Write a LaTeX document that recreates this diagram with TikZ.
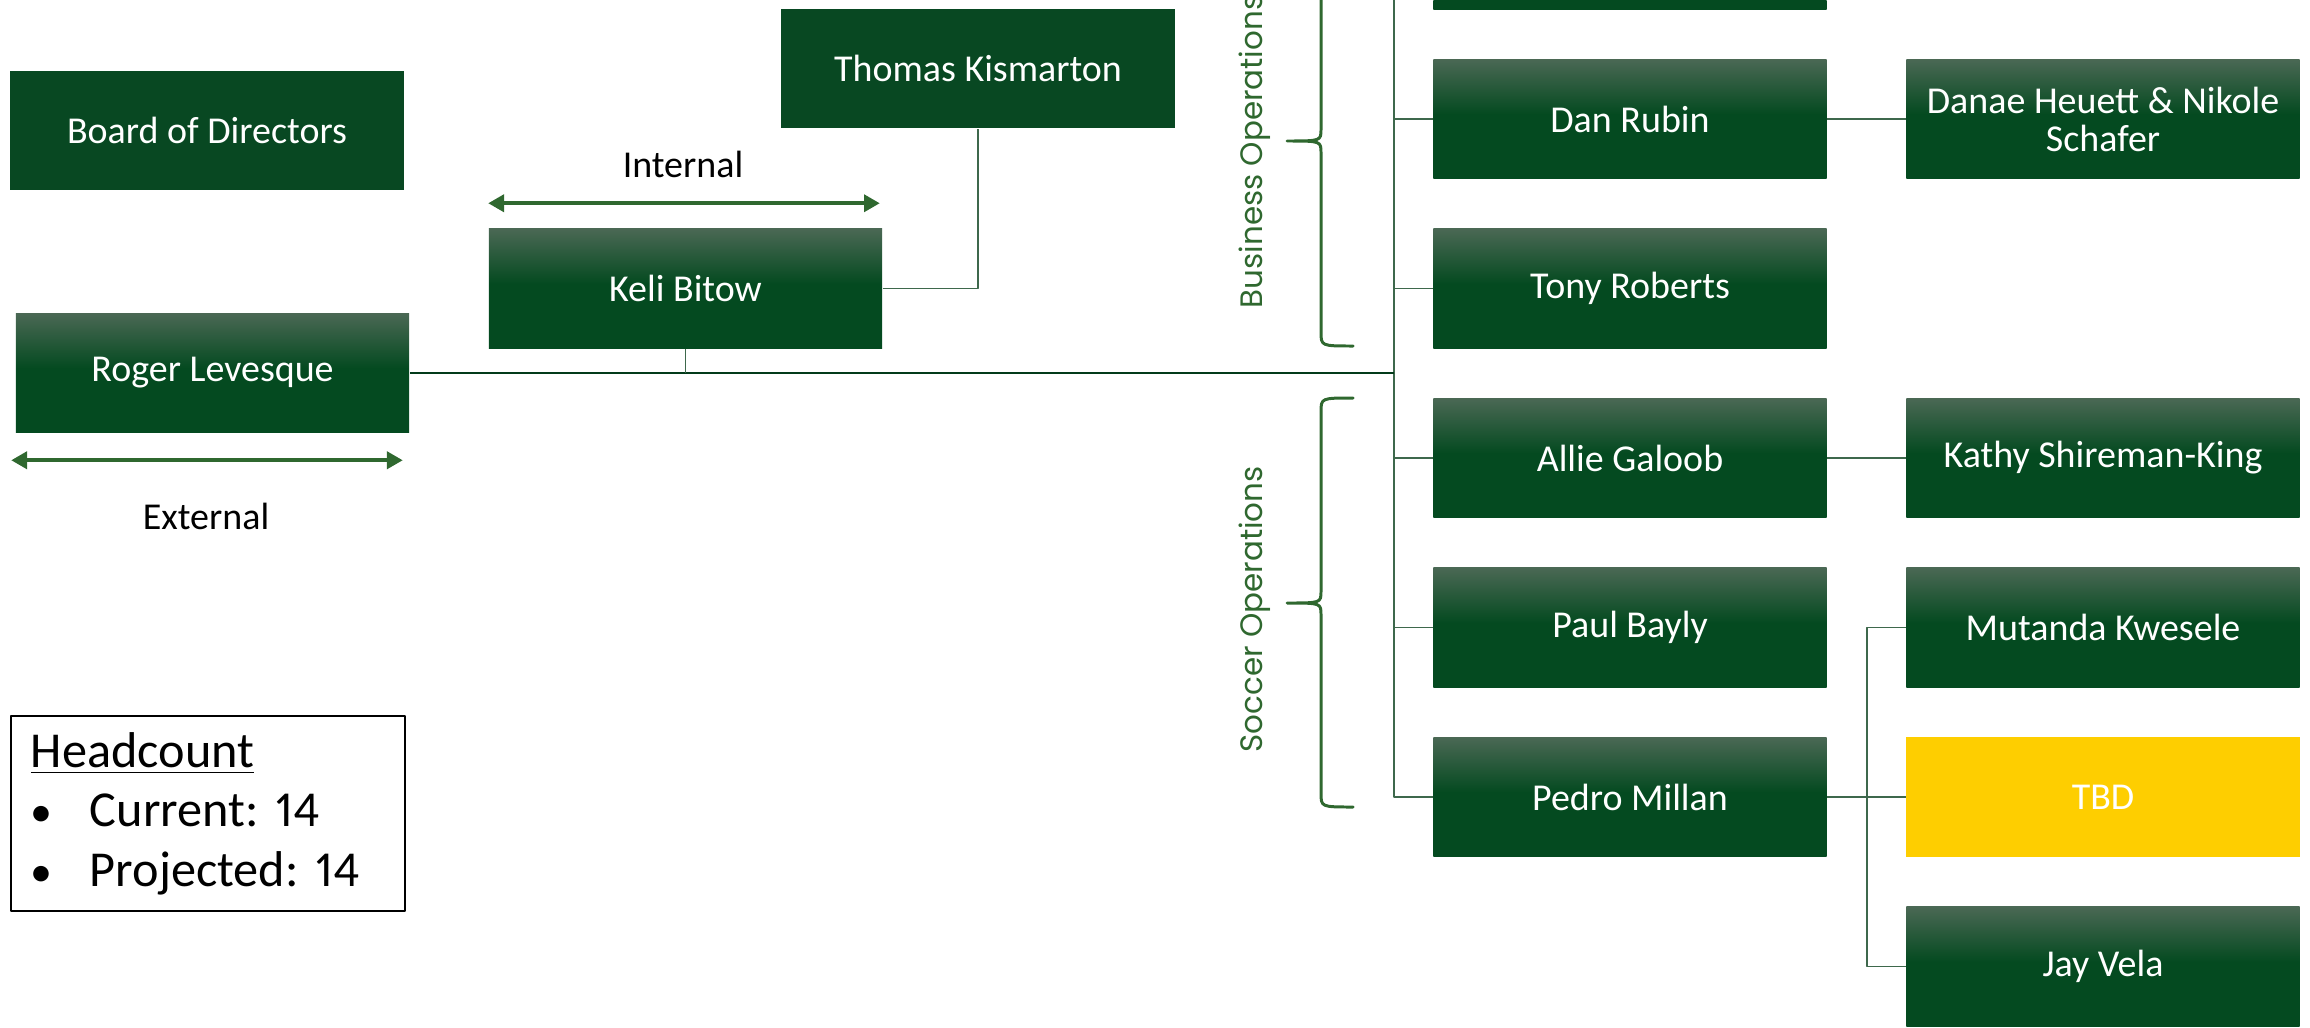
\documentclass[tikz,border=0pt]{standalone}
\usepackage{fontspec}
\setmainfont{Carlito}[Numbers=Proportional]
\newfontfamily\opsfont{Poppins}
\usetikzlibrary{arrows.meta}
\definecolor{boxgreen}{RGB}{4,74,32}
\definecolor{boxtop}{RGB}{74,104,84}
\definecolor{solidgreen}{RGB}{8,72,34}
\definecolor{bracegreen}{RGB}{47,104,47}
\definecolor{linegreen}{RGB}{62,104,76}
\definecolor{tbdyellow}{RGB}{254,206,0}
\pgfdeclareverticalshading{boxshade}{100bp}{color(0bp)=(boxgreen); color(25bp)=(boxgreen); color(52bp)=(boxgreen); color(75bp)=(boxtop); color(100bp)=(boxtop)}
\frenchspacing
\begin{document}
\begin{tikzpicture}[x=0.01cm,y=-0.01cm,line join=round,
	box/.style={rectangle,minimum width=3.93cm,minimum height=1.19cm,inner sep=2pt,text=white,align=center,font=\fontsize{10.8}{10.8}\selectfont},
	gbox/.style={box,shading=boxshade},
	sbox/.style={box,fill=solidgreen},
	tbdbox/.style={box,fill=tbdyellow},
	lbl/.style={font=\fontsize{10.8}{10.8}\selectfont},
	opslbl/.style={rotate=90,anchor=west,inner sep=0pt,text=bracegreen,font=\opsfont\fontsize{8.8}{8.8}\selectfont},
	conn/.style={draw=linegreen,line width=0.4pt},
	main/.style={draw=boxgreen!80!black,line width=0.7pt},
	dblarrow/.style={{Triangle[length=4.5pt,width=4.8pt]}-{Triangle[length=4.5pt,width=4.8pt]},draw=bracegreen,line width=1.1pt},
	brc/.style={draw=bracegreen,line width=0.85pt,line cap=round}]
	\useasboundingbox (0,0) rectangle (2310,1027);
	\clip (0,0) rectangle (2310,1027);
	% left side
	\node[sbox] (board) at (207,130.5) {Board of Directors};
	\node[sbox] (thomas) at (978,68.5) {Thomas Kismarton};
	\node[gbox] (keli) at (685.5,288.5) {Keli Bitow};
	\node[gbox] (roger) at (212.5,373) {Roger Levesque};
	\node[lbl] (internal) at (683,164) {Internal};
	\node[lbl] (external) at (206,516) {External};
	\draw[dblarrow] ([yshift=.25cm]keli.north west) -- ([yshift=.25cm,xshift=-.03cm]keli.north east);
	\draw[dblarrow] ([yshift=-.27cm,xshift=-.04cm]roger.south west) -- ([yshift=-.27cm,xshift=-.07cm]roger.south east);
	\node[draw,line width=0.6pt,minimum width=3.94cm,minimum height=1.95cm,inner xsep=.2cm,text width=3.54cm,align=left,font=\fontsize{14.3}{16.9}\selectfont] (hc) at (208,813.5)
		{\underline{Headcount}\\\makebox[.59cm][l]{\fontsize{12.5}{12.5}\selectfont\textbullet}Current: 14\\\makebox[.59cm][l]{\fontsize{12.5}{12.5}\selectfont\textbullet}Projected: 14};
	% right side
	\node[gbox] (ops0) at (1630,-50.5) {};
	\node[gbox] (dan) at (1630,119) {Dan Rubin};
	\node[gbox] (tony) at (1630,288.5) {Tony Roberts};
	\node[gbox] (allie) at (1630,458) {Allie Galoob};
	\node[gbox] (paul) at (1630,627.5) {Paul Bayly};
	\node[gbox] (pedro) at (1630,797) {Pedro Millan};
	\node[gbox] (danae) at (2103,119) {Danae Heuett \& Nikole\\Schafer};
	\node[gbox] (kathy) at (2103,458) {Kathy Shireman-King};
	\node[gbox] (mutanda) at (2103,627.5) {Mutanda Kwesele};
	\node[tbdbox] (tbd) at (2103,797) {TBD};
	\node[gbox] (jay) at (2103,966.5) {Jay Vela};
	\node[opslbl] (busops) at (1255,309) {Business Operations};
	\node[opslbl] (socops) at (1255,753) {Soccer Operations};
	% braces
	\foreach \t/\m/\b in {-66/141/346,398/603/807}
	\draw[brc] (1353,\t) .. controls (1321,\t) .. (1321,\t+14) -- (1321,\m-12) .. controls (1321,\m) .. (1287,\m) .. controls (1321,\m) .. (1321,\m+12) -- (1321,\b-14) .. controls (1321,\b) .. (1353,\b);
	% connectors
	\coordinate (hub) at (1394,373);
	\coordinate (trunktop) at (1394,-80);
	\coordinate (fork) at (1867,797);
	\draw[conn] (trunktop) |- (pedro.west);
	\foreach \n in {ops0,dan,tony,allie,paul}
	\draw[conn] (hub |- \n.west) -- (\n.west);
	\draw[main] (roger.east) -- (hub);
	\draw[conn] (keli.south) -- (keli.south |- hub);
	\draw[conn] (keli.east) -| (thomas.south);
	\draw[conn] (dan) -- (danae);
	\draw[conn] (allie) -- (kathy);
	\draw[conn] (pedro) -- (tbd);
	\draw[conn] (mutanda.west) -| (fork) |- (jay.west);
\end{tikzpicture}
\end{document}
